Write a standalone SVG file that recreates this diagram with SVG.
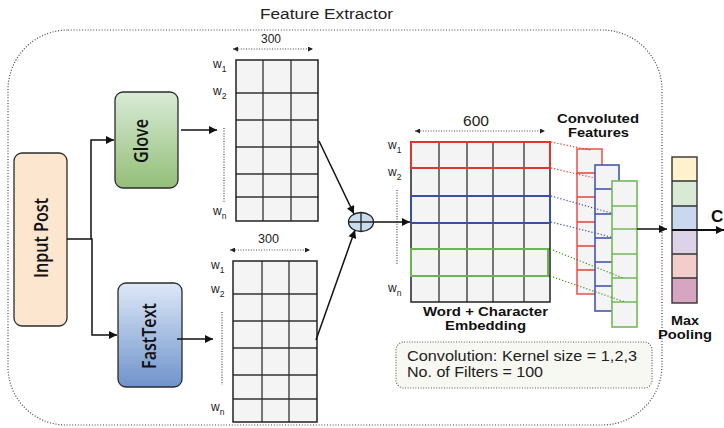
<svg xmlns="http://www.w3.org/2000/svg" width="724" height="428" viewBox="0 0 724 428">
<defs>
<marker id="arr" viewBox="0 0 10 10" refX="10" refY="5" markerWidth="9" markerHeight="8" markerUnits="userSpaceOnUse" orient="auto"><path d="M0,0 L10,5 L0,10 Z" fill="#111"/></marker>
<marker id="sarr" viewBox="0 0 10 10" refX="10" refY="5" markerWidth="7" markerHeight="5" markerUnits="userSpaceOnUse" orient="auto-start-reverse"><path d="M0,0 L10,5 L0,10 Z" fill="#222"/></marker>
<linearGradient id="gGlove" x1="0" y1="0" x2="0" y2="1"><stop offset="0" stop-color="#d8ebd6"/><stop offset="1" stop-color="#93be78"/></linearGradient>
<linearGradient id="gFast" x1="0" y1="0" x2="0" y2="1"><stop offset="0" stop-color="#dde8f7"/><stop offset="1" stop-color="#6f93cb"/></linearGradient>
<style>
.box{stroke:#2b2b2b;stroke-width:1.3}
.rt{font-family:"Open Sans","Noto Sans",sans-serif;font-weight:600;fill:#111}
.t{font-family:"Liberation Sans",Arial,sans-serif;fill:#222}
.b{font-family:"Liberation Sans",Arial,sans-serif;font-weight:bold;fill:#111}
.cell{fill:#f4f4f4;stroke:none}
.gl{stroke:#333;stroke-width:1.3;fill:none}
.go{stroke:#222;stroke-width:1.5;fill:none}
.con{stroke:#111;stroke-width:1.5;fill:none}
.dot{stroke:#444;stroke-width:1.2;stroke-dasharray:1 1.6;fill:none}
.w{font-family:"Liberation Sans",Arial,sans-serif;fill:#222;font-size:12px}
.sub{font-size:8.5px}
</style>
</defs>
<rect width="724" height="428" fill="#fff"/>

<g id="feature-extractor">
<path d="M68 30 H602 A60 60 0 0 1 662 90 V365 A60 60 0 0 1 602 425 H66 A58 58 0 0 1 8 367 V90 A60 60 0 0 1 68 30 Z" fill="none" stroke="#444" stroke-width="1.2" stroke-dasharray="1 1.8"/>
<text class="t" x="260" y="19" font-size="15.5" textLength="133" lengthAdjust="spacingAndGlyphs">Feature Extractor</text>
</g>

<g id="input-post">
<rect class="box" x="14" y="153" width="53" height="173" rx="8" fill="#fde6cf"/>
<text class="rt" font-size="19" text-anchor="middle" transform="translate(48,238) rotate(-90) scale(0.85,1)">Input Post</text>
</g>

<g id="glove">
<rect class="box" x="115" y="92" width="63" height="96" rx="8" fill="url(#gGlove)"/>
<text class="rt" font-size="19" text-anchor="middle" transform="translate(148,141) rotate(-90) scale(0.85,1)">Glove</text>
</g>

<g id="fasttext">
<rect class="box" x="118" y="283" width="64" height="104" rx="8" fill="url(#gFast)"/>
<text class="rt" font-size="19" text-anchor="middle" transform="translate(156,336) rotate(-90) scale(0.85,1)">FastText</text>
</g>

<g id="glove-embedding">
<rect class="cell" x="236" y="60" width="82" height="161"/>
<path class="gl" d="M263 60V221M291 60V221M236 93H318M236 120H318M236 147H318M236 174H318M236 197H318"/>
<rect class="go" x="236" y="60" width="82" height="161"/>
<text class="t" x="261" y="43" font-size="12" textLength="20" lengthAdjust="spacingAndGlyphs">300</text>
<line class="dot" x1="233" y1="49" x2="313" y2="49" marker-start="url(#sarr)" marker-end="url(#sarr)"/>
<text class="w" x="213" y="68">w<tspan class="sub" dy="4">1</tspan></text>
<text class="w" x="213" y="95">w<tspan class="sub" dy="4">2</tspan></text>
<text class="w" x="213" y="215">w<tspan class="sub" dy="4">n</tspan></text>
<line class="dot" x1="224" y1="128" x2="224" y2="202"/>
</g>

<g id="fasttext-embedding">
<rect class="cell" x="233" y="261" width="84" height="161"/>
<path class="gl" d="M262 261V422M289 261V422M233 294H317M233 321H317M233 348H317M233 375H317M233 399H317"/>
<rect class="go" x="233" y="261" width="84" height="161"/>
<text class="t" x="258" y="243" font-size="12" textLength="21" lengthAdjust="spacingAndGlyphs">300</text>
<line class="dot" x1="230" y1="250" x2="310" y2="250" marker-start="url(#sarr)" marker-end="url(#sarr)"/>
<text class="w" x="211" y="269">w<tspan class="sub" dy="4">1</tspan></text>
<text class="w" x="211" y="293">w<tspan class="sub" dy="4">2</tspan></text>
<text class="w" x="211" y="411">w<tspan class="sub" dy="4">n</tspan></text>
<line class="dot" x1="222" y1="312" x2="222" y2="385"/>
</g>

<g id="concat">
<ellipse cx="361" cy="222" rx="12.5" ry="9.5" fill="#c9dced" stroke="#222" stroke-width="1.3"/>
<path d="M361 212.5V231.5M348.5 222H373.5" stroke="#222" stroke-width="1.3"/>
</g>

<g id="word-char-embedding">
<rect class="cell" x="411" y="142" width="139" height="160"/>
<path class="gl" d="M439 142V302M467 142V302M493 142V302M524 142V302M411 168H550M411 196H550M411 223H550M411 249H550M411 276H550"/>
<rect class="go" x="411" y="142" width="139" height="160"/>
<rect x="411" y="142" width="139" height="26" fill="none" stroke="#e0352e" stroke-width="2"/>
<rect x="411" y="196" width="139" height="27" fill="none" stroke="#3a4ea6" stroke-width="2"/>
<rect x="411" y="249" width="137" height="27" fill="none" stroke="#6cb452" stroke-width="2"/>
<text class="t" x="463" y="126" font-size="15" textLength="26" lengthAdjust="spacingAndGlyphs">600</text>
<line class="dot" x1="415" y1="131" x2="545" y2="131" marker-start="url(#sarr)" marker-end="url(#sarr)"/>
<text class="w" x="388" y="149">w<tspan class="sub" dy="4">1</tspan></text>
<text class="w" x="388" y="176">w<tspan class="sub" dy="4">2</tspan></text>
<text class="w" x="388" y="292">w<tspan class="sub" dy="4">n</tspan></text>
<line class="dot" x1="397" y1="190" x2="397" y2="264"/>
<text class="b" x="423" y="316" font-size="12.5" textLength="125" lengthAdjust="spacingAndGlyphs">Word + Character</text>
<text class="b" x="445" y="330" font-size="12.5" textLength="81" lengthAdjust="spacingAndGlyphs">Embedding</text>
</g>

<g id="convoluted-features">
<rect x="577" y="149" width="25" height="145" fill="#f4f4f4" stroke="#ec5a55" stroke-width="1.6"/>
<path d="M577 173H602M577 197H602M577 222H602M577 246H602M577 270H602" stroke="#e8403a" stroke-width="1.6"/>
<rect x="595" y="165" width="24" height="146" fill="#f4f4f4" stroke="#3a4ea6" stroke-width="1.5"/>
<path d="M595 189H619M595 214H619M595 238H619M595 262H619M595 286H619" stroke="#3a4ea6" stroke-width="1.5"/>
<rect x="612" y="181" width="25" height="146" fill="#f4f4f4" stroke="#72b85a" stroke-width="1.6"/>
<path d="M612 206H637M612 229H637M612 254H637M612 278H637M612 302H637" stroke="#72b85a" stroke-width="1.6"/>
<text class="b" x="557" y="123" font-size="12.5" textLength="82" lengthAdjust="spacingAndGlyphs">Convoluted</text>
<text class="b" x="568" y="137" font-size="12.5" textLength="61" lengthAdjust="spacingAndGlyphs">Features</text>
</g>

<g id="max-pooling">
<rect x="672" y="157" width="25" height="24" fill="#fff2cc"/>
<rect x="672" y="181" width="25" height="25" fill="#d8ead5"/>
<rect x="672" y="206" width="25" height="24" fill="#c9d8ef"/>
<rect x="672" y="230" width="25" height="24" fill="#ddd3e8"/>
<rect x="672" y="254" width="25" height="24" fill="#f3cccc"/>
<rect x="672" y="278" width="25" height="25" fill="#d6a5c1"/>
<path d="M672 181H697M672 206H697M672 254H697M672 278H697" stroke="#333" stroke-width="1.3"/>
<rect x="672" y="157" width="25" height="146" fill="none" stroke="#333" stroke-width="1.4"/>
<text class="b" x="671" y="325" font-size="12.5" textLength="28" lengthAdjust="spacingAndGlyphs">Max</text>
<text class="b" x="658" y="339" font-size="12.5" textLength="54" lengthAdjust="spacingAndGlyphs">Pooling</text>
<text class="b" x="711" y="222" font-size="17">C</text>
</g>

<g id="note">
<rect x="396" y="342" width="256" height="46" rx="8" fill="#f8f8f3" stroke="#555" stroke-width="1.1" stroke-dasharray="1 1.6"/>
<text class="t" x="407" y="361" font-size="14" textLength="230" lengthAdjust="spacingAndGlyphs">Convolution: Kernel size = 1,2,3</text>
<text class="t" x="407" y="377" font-size="14" textLength="136" lengthAdjust="spacingAndGlyphs">No. of Filters = 100</text>
</g>

<g id="connectors">
<path class="con" d="M67 239H91V140H114" marker-end="url(#arr)"/>
<path class="con" d="M91 239H92V335H117" marker-end="url(#arr)"/>
<line class="con" x1="181" y1="130" x2="217" y2="130" marker-end="url(#arr)"/>
<line class="con" x1="177" y1="339" x2="213" y2="339" marker-end="url(#arr)"/>
<line class="con" x1="319" y1="141" x2="354" y2="214" marker-end="url(#arr)"/>
<line class="con" x1="316" y1="340" x2="355" y2="230" marker-end="url(#arr)"/>
<line class="con" x1="374" y1="222" x2="410" y2="222" marker-end="url(#arr)"/>
<line class="con" x1="637" y1="229" x2="667" y2="229" marker-end="url(#arr)"/>
<line x1="672" y1="230" x2="724" y2="230" stroke="#111" stroke-width="2" marker-end="url(#arr)"/>
<g stroke-width="1.2" stroke-dasharray="1.2 2" fill="none">
<line x1="551" y1="142" x2="590" y2="150" stroke="#e0352e"/>
<line x1="551" y1="168" x2="595" y2="178" stroke="#e0352e"/>
<line x1="551" y1="196" x2="611" y2="213" stroke="#3a4ea6"/>
<line x1="551" y1="222" x2="611" y2="237" stroke="#3a4ea6"/>
<line x1="550" y1="249" x2="623" y2="278" stroke="#3f8a2c"/>
<line x1="550" y1="276" x2="625" y2="302" stroke="#3f8a2c"/>
</g>
</g>
</svg>
